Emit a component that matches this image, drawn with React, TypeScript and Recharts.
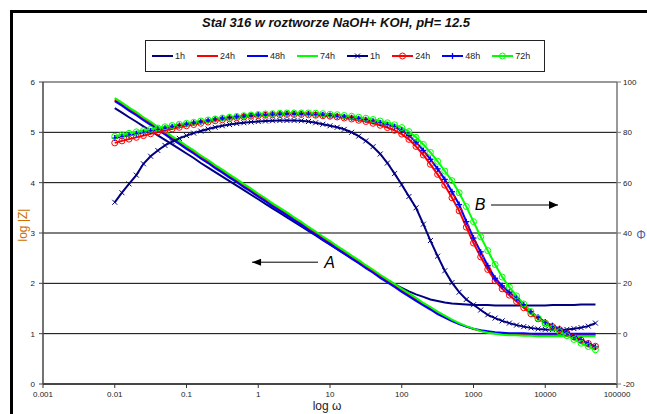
import React from 'react';
import { LineChart, Line, XAxis, YAxis, CartesianGrid, ReferenceLine, ReferenceDot } from 'recharts';

// angular frequency (rad/s), 10 points per decade
const freq = [
  0.01, 0.0126, 0.0158, 0.02, 0.0251, 0.0316, 0.0398, 0.0501, 0.0631, 0.0794,
  0.1, 0.126, 0.158, 0.2, 0.251, 0.316, 0.398, 0.501, 0.631, 0.794,
  1, 1.26, 1.58, 2, 2.51, 3.16, 3.98, 5.01, 6.31, 7.94,
  10, 12.6, 15.8, 20, 25.1, 31.6, 39.8, 50.1, 63.1, 79.4,
  100, 126, 158, 200, 251, 316, 398, 501, 631, 794,
  1000, 1260, 1580, 2000, 2510, 3160, 3980, 5010, 6310, 7940,
  10000, 12600, 15800, 20000, 25100, 31600, 39800, 50100,
];

// log |Z| (curves A)
const z1h = [
  5.48, 5.39, 5.30, 5.21, 5.12, 5.03, 4.94, 4.85, 4.76, 4.67,
  4.58, 4.49, 4.39, 4.30, 4.21, 4.12, 4.03, 3.94, 3.85, 3.76,
  3.67, 3.58, 3.49, 3.40, 3.31, 3.22, 3.13, 3.04, 2.95, 2.86,
  2.77, 2.68, 2.59, 2.50, 2.41, 2.32, 2.23, 2.15, 2.06, 1.98,
  1.91, 1.84, 1.78, 1.73, 1.68, 1.65, 1.62, 1.60, 1.59, 1.58,
  1.57, 1.57, 1.57, 1.56, 1.56, 1.56, 1.56, 1.56, 1.56, 1.56,
  1.56, 1.57, 1.57, 1.57, 1.57, 1.58, 1.58, 1.58,
];
const z24h = [
  5.65, 5.56, 5.46, 5.37, 5.27, 5.18, 5.08, 4.99, 4.89, 4.80,
  4.70, 4.61, 4.51, 4.42, 4.32, 4.23, 4.13, 4.04, 3.94, 3.85,
  3.75, 3.66, 3.56, 3.47, 3.38, 3.28, 3.19, 3.09, 3.00, 2.90,
  2.81, 2.71, 2.62, 2.52, 2.43, 2.33, 2.24, 2.14, 2.05, 1.96,
  1.86, 1.77, 1.68, 1.59, 1.50, 1.41, 1.33, 1.26, 1.20, 1.14,
  1.09, 1.06, 1.03, 1.01, 1.00, 0.99, 0.98, 0.98, 0.98, 0.97,
  0.97, 0.97, 0.97, 0.97, 0.97, 0.97, 0.97, 0.97,
];
const z48h = [
  5.62, 5.53, 5.43, 5.34, 5.24, 5.15, 5.05, 4.96, 4.86, 4.77,
  4.67, 4.58, 4.48, 4.39, 4.29, 4.20, 4.10, 4.01, 3.91, 3.82,
  3.72, 3.63, 3.53, 3.44, 3.35, 3.25, 3.16, 3.06, 2.97, 2.87,
  2.78, 2.68, 2.59, 2.49, 2.40, 2.30, 2.21, 2.11, 2.02, 1.93,
  1.83, 1.74, 1.65, 1.56, 1.48, 1.39, 1.32, 1.25, 1.19, 1.14,
  1.10, 1.07, 1.05, 1.03, 1.02, 1.01, 1.01, 1.01, 1.00, 1.00,
  1.00, 1.00, 1.00, 1.00, 1.00, 1.00, 1.00, 1.00,
];
const z74h = [
  5.68, 5.59, 5.49, 5.40, 5.30, 5.21, 5.11, 5.02, 4.92, 4.83,
  4.73, 4.64, 4.54, 4.45, 4.35, 4.26, 4.16, 4.07, 3.97, 3.88,
  3.78, 3.69, 3.59, 3.50, 3.41, 3.31, 3.22, 3.12, 3.03, 2.93,
  2.84, 2.74, 2.65, 2.55, 2.46, 2.36, 2.27, 2.17, 2.08, 1.99,
  1.89, 1.80, 1.71, 1.61, 1.53, 1.44, 1.36, 1.28, 1.21, 1.15,
  1.10, 1.05, 1.02, 1.00, 0.98, 0.97, 0.97, 0.96, 0.96, 0.95,
  0.95, 0.95, 0.95, 0.95, 0.95, 0.95, 0.95, 0.95,
];

// phase angle (curves B)
const p1h = [
  52.2, 56.0, 59.5, 63.0, 67.5, 70.5, 72.8, 74.8, 76.3, 77.6,
  78.7, 79.7, 80.5, 81.3, 82.0, 82.6, 83.1, 83.5, 83.8, 84.1,
  84.3, 84.5, 84.6, 84.7, 84.7, 84.7, 84.6, 84.3, 83.8, 83.2,
  82.6, 82.0, 81.2, 80.0, 78.5, 76.6, 74.3, 71.4, 67.8, 63.6,
  59.2, 54.5, 50.0, 43.5, 37.0, 30.8, 25.0, 20.3, 16.5, 13.6,
  11.5, 9.4, 7.5, 6.2, 5.1, 4.2, 3.4, 2.8, 2.3, 1.9,
  1.7, 1.6, 1.6, 1.7, 2.0, 2.4, 3.0, 4.2,
];
const p24h = [
  75.8, 76.6, 77.3, 78.0, 78.7, 79.4, 80.1, 80.8, 81.4, 82.0,
  82.6, 83.1, 83.6, 84.1, 84.6, 85.0, 85.4, 85.8, 86.1, 86.4,
  86.6, 86.8, 86.9, 87.0, 87.1, 87.1, 87.1, 87.0, 86.8, 86.6,
  86.4, 86.1, 85.7, 85.3, 84.8, 84.3, 83.6, 82.8, 81.9, 80.8,
  79.3, 77.2, 74.4, 71.0, 67.3, 63.3, 59.0, 54.0, 48.8, 42.3,
  36.0, 30.5, 25.5, 21.0, 17.8, 15.3, 12.8, 10.3, 7.9, 5.9,
  4.2, 2.8, 1.6, 0.2, -1.3, -2.6, -3.9, -5.0,
];
const p48h = [
  77.7, 78.3, 78.8, 79.4, 79.9, 80.5, 81.1, 81.6, 82.2, 82.7,
  83.2, 83.7, 84.2, 84.7, 85.2, 85.6, 85.9, 86.2, 86.5, 86.7,
  86.9, 87.0, 87.2, 87.3, 87.4, 87.4, 87.4, 87.3, 87.1, 86.9,
  86.7, 86.4, 86.1, 85.8, 85.4, 85.0, 84.4, 83.7, 83.0, 82.2,
  80.8, 78.8, 76.1, 72.8, 69.3, 65.5, 61.3, 56.4, 51.3, 44.5,
  38.0, 32.5, 27.0, 22.0, 19.0, 16.5, 14.0, 11.5, 8.7, 6.5,
  4.6, 3.2, 2.0, 0.5, -1.2, -2.5, -3.9, -5.3,
];
const p72h = [
  78.4, 79.0, 79.6, 80.2, 80.7, 81.2, 81.7, 82.2, 82.7, 83.2,
  83.6, 84.0, 84.5, 84.9, 85.3, 85.7, 86.0, 86.3, 86.6, 86.9,
  87.1, 87.3, 87.4, 87.6, 87.7, 87.7, 87.7, 87.7, 87.6, 87.4,
  87.2, 87.0, 86.7, 86.4, 86.0, 85.6, 85.1, 84.5, 83.8, 83.0,
  81.9, 80.3, 78.0, 75.2, 72.0, 68.5, 64.6, 60.8, 56.0, 50.5,
  44.5, 38.5, 33.0, 27.5, 22.5, 18.5, 15.0, 11.8, 8.8, 6.2,
  4.0, 2.2, 0.8, -0.8, -2.3, -3.8, -5.1, -6.4,
];

const xTicks = [0.001, 0.01, 0.1, 1, 10, 100, 1000, 10000, 100000];
const zTicks = [0, 1, 2, 3, 4, 5, 6];
const pTicks = [-20, 0, 20, 40, 60, 80, 100];

const title = 'Stal 316 w roztworze NaOH+ KOH, pH= 12.5';

type Marker = 'none' | 'x' | 'circle' | 'plus';
const series: { key: string; name: string; color: string; axis: 'z' | 'p'; marker: Marker; values: number[] }[] = [
  { key: 'z1', name: '1h', color: '#000080', axis: 'z', marker: 'none', values: z1h },
  { key: 'z24', name: '24h', color: '#FF0000', axis: 'z', marker: 'none', values: z24h },
  { key: 'z48', name: '48h', color: '#0000FF', axis: 'z', marker: 'none', values: z48h },
  { key: 'z74', name: '74h', color: '#00FF00', axis: 'z', marker: 'none', values: z74h },
  { key: 'p1', name: '1h', color: '#000080', axis: 'p', marker: 'x', values: p1h },
  { key: 'p24', name: '24h', color: '#FF0000', axis: 'p', marker: 'circle', values: p24h },
  { key: 'p48', name: '48h', color: '#0000FF', axis: 'p', marker: 'plus', values: p48h },
  { key: 'p72', name: '72h', color: '#00FF00', axis: 'p', marker: 'circle', values: p72h },
];

const data = freq.map((f, i) => {
  const row: Record<string, number> = { f };
  series.forEach((s) => (row[s.key] = s.values[i]));
  return row;
});

const FONT = '"Liberation Sans", Arial, sans-serif';

function drawMarker(kind: Marker, color: string, cx: number, cy: number, key?: React.Key) {
  if (kind === 'x')
    return (
      <g key={key} stroke={color} strokeWidth={1}>
        <line x1={cx - 2.5} y1={cy - 2.5} x2={cx + 2.5} y2={cy + 2.5} />
        <line x1={cx - 2.5} y1={cy + 2.5} x2={cx + 2.5} y2={cy - 2.5} />
      </g>
    );
  if (kind === 'plus')
    return (
      <g key={key} stroke={color} strokeWidth={1.3}>
        <line x1={cx - 3} y1={cy} x2={cx + 3} y2={cy} />
        <line x1={cx} y1={cy - 3} x2={cx} y2={cy + 3} />
      </g>
    );
  if (kind === 'circle')
    return <circle key={key} cx={cx} cy={cy} r={3} fill="none" stroke={color} strokeWidth={1} />;
  return <g key={key} />;
}

function ChartLegend() {
  return (
    <div
      style={{
        position: 'absolute', left: 145, top: 40, width: 400, height: 32, boxSizing: 'border-box',
        border: '1.5px solid #222', background: '#fff', display: 'flex', alignItems: 'center',
        paddingLeft: 6, fontFamily: FONT, fontSize: 9, color: '#222',
      }}
    >
      {series.map((s) => (
        <div key={s.key} style={{ display: 'flex', alignItems: 'center', marginRight: 12 }}>
          <svg width={21} height={10} style={{ marginRight: 2 }}>
            <line x1={0} y1={5} x2={21} y2={5} stroke={s.color} strokeWidth={2} />
            {drawMarker(s.marker, s.color, 10.5, 5)}
          </svg>
          <span>{s.name}</span>
        </div>
      ))}
    </div>
  );
}

const arrowLeft = (p: any) => (
  <polygon points={`${p.cx},${p.cy} ${p.cx + 9},${p.cy - 3.5} ${p.cx + 9},${p.cy + 3.5}`} fill="#000" />
);
const arrowRight = (p: any) => (
  <polygon points={`${p.cx},${p.cy} ${p.cx - 9},${p.cy - 4} ${p.cx - 9},${p.cy + 4}`} fill="#000" />
);
const letter = (t: string) => (p: any) => (
  <text x={p.cx} y={p.cy} textAnchor="middle" dominantBaseline="central" fontFamily={FONT} fontStyle="italic" fontSize={16} fill="#000">
    {t}
  </text>
);

export default function App() {
  const tickStyle = { fontSize: 8, fill: '#222', fontFamily: FONT };
  return (
    <div style={{ position: 'fixed', left: 0, top: 0, width: 647, height: 414, overflow: 'hidden', background: '#fff' }}>
      <div style={{ position: 'absolute', left: 10, top: 10, width: 700, height: 500, border: '3px solid #000' }} />
      <div
        style={{
          position: 'absolute', left: 136, top: 15, width: 400, textAlign: 'center',
          fontFamily: FONT, fontWeight: 'bold', fontStyle: 'italic', fontSize: 13, color: '#111',
        }}
      >
        {title}
      </div>
      <ChartLegend />
      <div style={{ position: 'absolute', left: 0, top: 0 }}>
        <LineChart width={647} height={414} data={data} margin={{ top: 82, right: 0, bottom: 0, left: 0 }}>
          <CartesianGrid yAxisId="z" vertical={false} stroke="#000" strokeWidth={1} />
          <ReferenceLine yAxisId="z" y={6} stroke="#a0a0a0" strokeWidth={1.5} />
          <XAxis
            dataKey="f" type="number" scale="log" domain={[0.001, 100000]} ticks={xTicks} interval={0}
            allowDataOverflow tickFormatter={(v) => String(v)} tick={tickStyle} tickSize={4} tickMargin={3}
            height={30} axisLine={{ stroke: '#333', strokeWidth: 1.5 }} tickLine={{ stroke: '#333' }}
            label={{ value: 'log ω', position: 'center', dy: 7, dx: -3, fontSize: 12, fill: '#222', fontFamily: FONT }}
          />
          <YAxis
            yAxisId="z" domain={[0, 6]} ticks={zTicks} interval={0} width={43} tick={tickStyle} tickSize={4} tickMargin={4}
            axisLine={{ stroke: '#444', strokeWidth: 1.5 }} tickLine={{ stroke: '#444' }}
            label={{ value: 'log |Z|', angle: -90, position: 'center', dx: 1, dy: -8, fontSize: 12, fill: '#CC7000', fontFamily: FONT }}
          />
          <YAxis
            yAxisId="p" orientation="right" domain={[-20, 100]} ticks={pTicks} interval={0} width={30} tick={tickStyle}
            tickSize={4} tickMargin={2} axisLine={{ stroke: '#777', strokeWidth: 1.5 }} tickLine={{ stroke: '#777' }}
            label={{ value: 'Φ', position: 'center', dx: 9, dy: 2, fontSize: 12, fill: '#4466AA', fontFamily: FONT }}
          />
          {series.map((s) => (
            <Line
              key={s.key}
              yAxisId={s.axis}
              dataKey={s.key}
              name={s.name}
              type="linear"
              stroke={s.color}
              strokeWidth={2}
              dot={s.marker === 'none' ? false : (p: any) => drawMarker(s.marker, s.color, p.cx, p.cy, p.index)}
              activeDot={false}
              isAnimationActive={false}
            />
          ))}
          <ReferenceLine yAxisId="z" segment={[{ x: 0.82, y: 2.42 }, { x: 6.81, y: 2.42 }]} stroke="#000" strokeWidth={1} />
          <ReferenceDot yAxisId="z" x={0.82} y={2.42} shape={arrowLeft} />
          <ReferenceDot yAxisId="z" x={9.84} y={2.41} shape={letter('A')} />
          <ReferenceLine yAxisId="z" segment={[{ x: 1754, y: 3.556 }, { x: 15066, y: 3.556 }]} stroke="#000" strokeWidth={1} />
          <ReferenceDot yAxisId="z" x={15066} y={3.556} shape={arrowRight} />
          <ReferenceDot yAxisId="z" x={1233} y={3.576} shape={letter('B')} />
        </LineChart>
      </div>
    </div>
  );
}
